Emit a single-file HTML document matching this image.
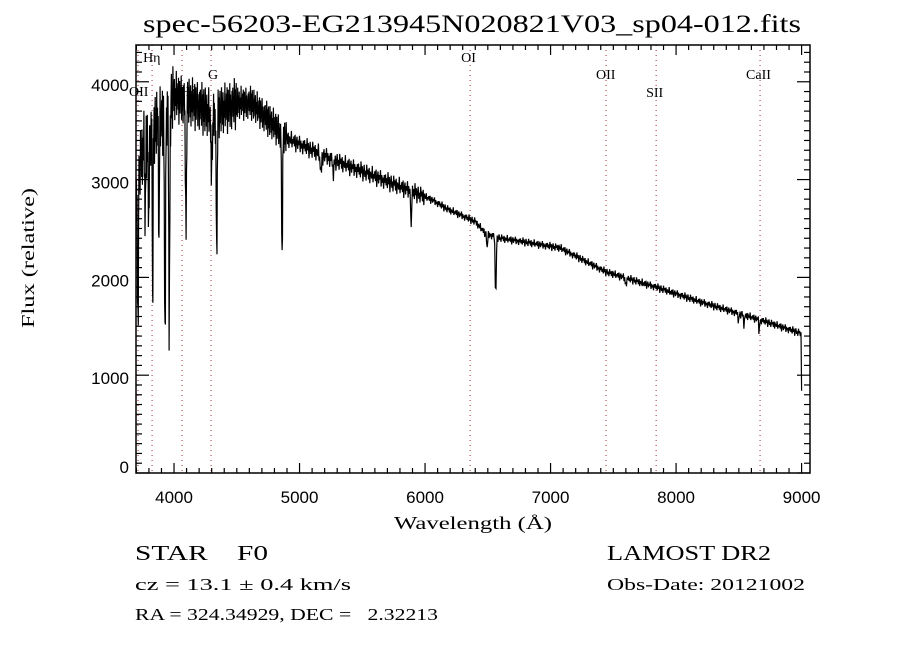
<!DOCTYPE html>
<html><head><meta charset="utf-8"><title>spec-56203-EG213945N020821V03_sp04-012.fits</title>
<style>
html,body{margin:0;padding:0;background:#fff;}
svg{display:block;}
text{font-family:"Liberation Serif","DejaVu Serif",serif;fill:#000;white-space:pre;}
.tk{font-family:"Liberation Sans","DejaVu Sans",sans-serif;font-size:17px;}
</style></head>
<body>
<svg id="chart" width="900" height="650" viewBox="0 0 900 650" xmlns="http://www.w3.org/2000/svg" xml:space="preserve">
<rect x="0" y="0" width="900" height="650" fill="#fff"/>
<text x="472" y="32" font-size="25" text-anchor="middle" textLength="658" lengthAdjust="spacingAndGlyphs">spec-56203-EG213945N020821V03_sp04-012.fits</text>
<g id="lines"></g>
<g id="ticks"></g>
<path id="spec" fill="none" stroke="#000" stroke-width="1.2"/>
<rect x="136" y="45" width="674" height="428" fill="none" stroke="#000" stroke-width="1.5"/>
<text x="473" y="529" font-size="18" text-anchor="middle" textLength="158" lengthAdjust="spacingAndGlyphs">Wavelength (Å)</text>
<text x="0" y="0" font-size="18" text-anchor="middle" transform="translate(34,258) rotate(-90)" textLength="140" lengthAdjust="spacingAndGlyphs">Flux (relative)</text>
<text x="135" y="560" font-size="21" textLength="133" lengthAdjust="spacingAndGlyphs">STAR&#160;&#160;&#160;&#160;F0</text>
<text x="607" y="560" font-size="21" textLength="164" lengthAdjust="spacingAndGlyphs">LAMOST DR2</text>
<text x="135" y="590" font-size="17" textLength="216" lengthAdjust="spacingAndGlyphs">cz = 13.1 ± 0.4 km/s</text>
<text x="607" y="590" font-size="17" textLength="198" lengthAdjust="spacingAndGlyphs">Obs-Date: 20121002</text>
<text x="135" y="620" font-size="17" textLength="303" lengthAdjust="spacingAndGlyphs">RA = 324.34929, DEC =&#160;&#160;&#160;2.32213</text>
</svg>
<script>
// continuum knots
const contWave = [3700,3750,3800,3850,3900,3950,4000,4100,4200,4300,4400,4500,4620,4720,4820,4900,5000,5270,5660,6060,6175,6400,6480,6600,6800,7076,7442,7841,8191,8669,8988,8998,9003];
const contFlux = [2900,3300,3450,3550,3600,3700,3850,3800,3750,3650,3720,3780,3780,3650,3520,3420,3360,3200,3000,2790,2700,2570,2450,2400,2360,2300,2055,1900,1750,1565,1430,1400,0];
// absorption lines
const lineWave  = [3712,3770,3798,3830,3880,3928,3962,4095,4300,4340,4861,5170,5270,5890,6495,6563,7600,8498,8542,8662];
const lineDepth = [1500,900,1100,1900,1300,2450,2300,1400,500,1500,1250,200,150,420,150,650,60,120,130,140];
const lineWidth = [4,3,3,3,3,4,4,4,6,4,4,6,5,3,4,4,6,3,3,3];
// hand-read jitter pattern
const jitter = [0.3,-0.6,0.9,-0.2,0.5,-0.9,0.1,0.7,-0.4,0.2,-0.7,0.8,-0.1,0.4,-0.5,0.6,-0.8,0.3,0.0,-0.3,0.9,-0.6,0.2,-0.2,0.5,-0.4,0.7,-0.9,0.1,0.6,-0.5,0.3,-0.1,0.8,-0.7,0.4,-0.3,0.2,-0.8,0.5,-0.2,0.6,-0.4];
// reference line markers
const markWave  = [3713,3825,4064,4295,6359,7442,7841,8669];
const markLabel = ["OII","Hη","Hδ","G","OI","OII","SII","CaII"];
const markLabelY= [96,62,96,79,62,79,97,79];
const markOffX  = [-9,-9,-2,-3,-9,-10,-10,-14];
const xTicks = [4000,5000,6000,7000,8000,9000];
const yTicks = [0,1000,2000,3000,4000];

const X0=136,X1=810,Y0=473,Y1=45;
const wMin=3697, wMax=9067, fMin=0, fMax=4376;
const xs = w => X0 + (w-wMin)/(wMax-wMin)*(X1-X0);
const ys = f => Y0 - (f-fMin)/(fMax-fMin)*(Y0-Y1);
const NS="http://www.w3.org/2000/svg";

function cont(w){
  for(let i=0;i<contWave.length-1;i++){
    if(w>=contWave[i]&&w<=contWave[i+1]){
      const t=(w-contWave[i])/(contWave[i+1]-contWave[i]);
      return contFlux[i]+t*(contFlux[i+1]-contFlux[i]);
    }
  }
  return 0;
}
function amp(w){ if(w<4000) return 420; if(w<4500) return 300; if(w<4900) return 200; if(w<6000) return 110; if(w>8995) return 0; return 50; }

let d="";
let k=0;
for(let w=3700; w<=9003; w+= (w<4900?3:5)){
  let f=cont(w);
  for(let i=0;i<lineWave.length;i++){
    const z=(w-lineWave[i])/lineWidth[i];
    f-=lineDepth[i]*Math.exp(-0.5*z*z);
  }
  f+=amp(w)*jitter[k%jitter.length];
  k++;
  f=Math.max(0,Math.min(fMax,f));
  d+=(d?"L":"M")+xs(w).toFixed(1)+","+ys(f).toFixed(1);
}
document.getElementById('spec').setAttribute('d',d);

const gl=document.getElementById('lines');
markWave.forEach((w,i)=>{
  const l=document.createElementNS(NS,'line');
  
  
  l.setAttribute('x1',xs(w));l.setAttribute('x2',xs(w));
  l.setAttribute('y1',Y1);l.setAttribute('y2',Y0);
  l.setAttribute('stroke','#a03030');l.setAttribute('stroke-width','1');
  l.setAttribute('stroke-dasharray','1,4');
  gl.appendChild(l);
  const t=document.createElementNS(NS,'text');
  
  
  t.setAttribute('x',xs(w)+markOffX[i]);t.setAttribute('y',markLabelY[i]);
  t.setAttribute('font-size','14');
  t.textContent=markLabel[i];
  gl.appendChild(t);
});

const gt=document.getElementById('ticks');
function seg(x1,y1,x2,y2){
  const l=document.createElementNS(NS,'line');
  
  
  l.setAttribute('x1',x1);l.setAttribute('y1',y1);l.setAttribute('x2',x2);l.setAttribute('y2',y2);
  l.setAttribute('stroke','#000');l.setAttribute('stroke-width','1.2');
  gt.appendChild(l);
}
for(let w=3700; w<=wMax; w+=100){
  const len = (w%1000===0)?10:5;
  seg(xs(w),Y0,xs(w),Y0-len); seg(xs(w),Y1,xs(w),Y1+len);
}
for(let f=0; f<=fMax; f+=100){
  const len = (f%1000===0)?13:6;
  seg(X0,ys(f),X0+len,ys(f)); seg(X1,ys(f),X1-len,ys(f));
}
xTicks.forEach(v=>{
  const t=document.createElementNS(NS,'text');
  
  
  t.setAttribute('class','tk');
  t.setAttribute('x',xs(v));t.setAttribute('y',503);
  t.setAttribute('text-anchor','middle');
  t.textContent=v;
  gt.appendChild(t);
});
yTicks.forEach(v=>{
  const t=document.createElementNS(NS,'text');
  
  
  t.setAttribute('class','tk');
  t.setAttribute('x',129);t.setAttribute('y',v===0?ys(v):ys(v)+9);
  t.setAttribute('text-anchor','end');
  t.textContent=v;
  gt.appendChild(t);
});
</script>
</body></html>
